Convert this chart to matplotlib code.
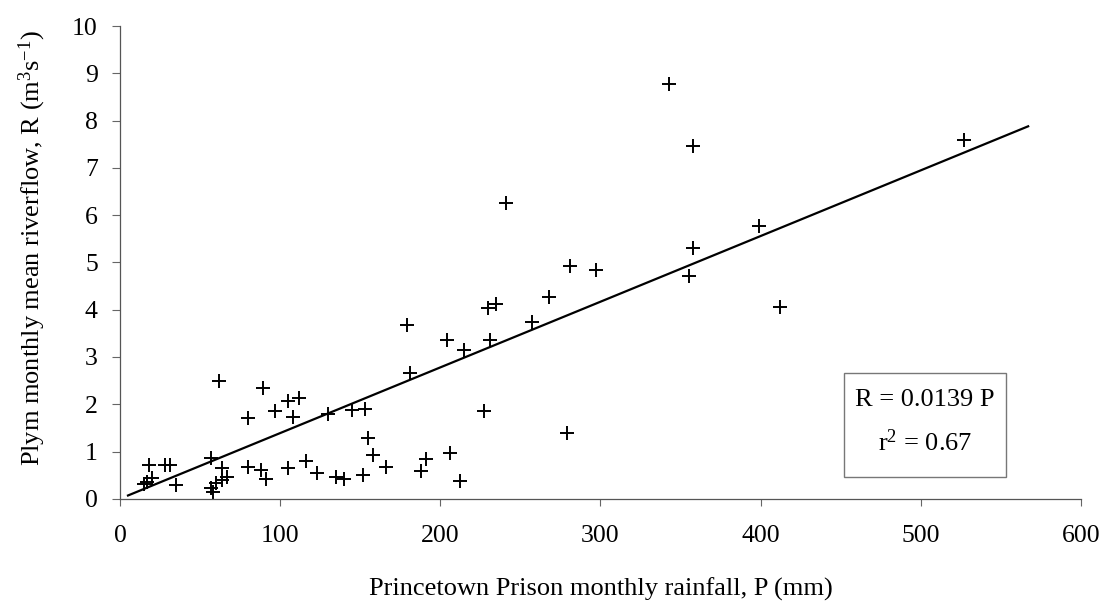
import matplotlib
matplotlib.use("Agg")
import matplotlib.pyplot as plt
from matplotlib.patches import Rectangle
import numpy as np

plt.rcParams["font.family"] = "Liberation Serif"
plt.rcParams["mathtext.fontset"] = "custom"
plt.rcParams["mathtext.rm"] = "Liberation Serif"
plt.rcParams["mathtext.it"] = "Liberation Serif"

# Data
rainfall = [62, 89, 105, 112, 97, 108, 80, 130, 145, 153, 155, 158, 166, 152,
            140, 135, 123, 116, 105, 91, 88, 80, 57, 64, 67, 64, 60, 57, 58,
            18, 28, 31, 20, 15, 35, 17,
            179, 204, 215, 231, 257, 181, 227, 279, 206, 191, 188, 212, 230, 235,
            343, 358, 241, 399, 358, 355, 281, 297, 268, 412, 527]
riverflow = [2.50, 2.34, 2.07, 2.14, 1.85, 1.74, 1.70, 1.80, 1.88, 1.90, 1.28,
             0.93, 0.68, 0.51, 0.42, 0.47, 0.54, 0.79, 0.66, 0.42, 0.61, 0.68,
             0.87, 0.65, 0.46, 0.40, 0.33, 0.23, 0.15,
             0.72, 0.72, 0.72, 0.44, 0.32, 0.30, 0.36,
             3.68, 3.35, 3.15, 3.36, 3.75, 2.67, 1.85, 1.40, 0.97, 0.84, 0.58,
             0.37, 4.03, 4.13,
             8.77, 7.46, 6.25, 5.78, 5.30, 4.71, 4.93, 4.84, 4.26, 4.05, 7.59]
slope = 0.0139
fit_range = [5, 567]
r_squared = 0.67

fig = plt.figure(figsize=(11.11, 6.09), dpi=100)
ax = fig.add_axes([0.108, 0.181, 0.865, 0.776])

ax.plot(rainfall, riverflow, linestyle="none", marker="+", markersize=10,
        markeredgewidth=1.4, color="black")
fx = np.array(fit_range)
ax.plot(fx, slope * fx, color="black", linewidth=1.6)

ax.set_xlim(0, 600)
ax.set_ylim(0, 10)
ax.set_xticks(range(0, 601, 100))
ax.set_yticks(range(0, 11))
ax.tick_params(labelsize=18.5, width=0.8, color="#666666")
ax.tick_params(axis="x", length=5, pad=14)
ax.tick_params(axis="y", length=6, pad=10)
for side in ["top", "right"]:
    ax.spines[side].set_visible(False)
for side in ["left", "bottom"]:
    ax.spines[side].set_color("#555555")
    ax.spines[side].set_linewidth(0.9)

ax.set_xlabel("Princetown Prison monthly rainfall, P (mm)", fontsize=19, labelpad=22)
ax.set_ylabel("Plym monthly mean riverflow, R (m$^3$s$^{-1}$)", fontsize=19)
ax.yaxis.set_label_coords(-0.075, 0.53)

# equation box
ax.add_patch(Rectangle((452, 0.47), 101, 2.19, facecolor="white",
                       edgecolor="#777777", linewidth=1.0, zorder=3))
ax.text(502.5, 2.08, f"R = {slope} P", ha="center", va="center", fontsize=19, zorder=4)
ax.text(502.5, 1.18, f"r$^2$ = {r_squared}", ha="center", va="center", fontsize=19, zorder=4)

fig.savefig("out.png", dpi=100)
